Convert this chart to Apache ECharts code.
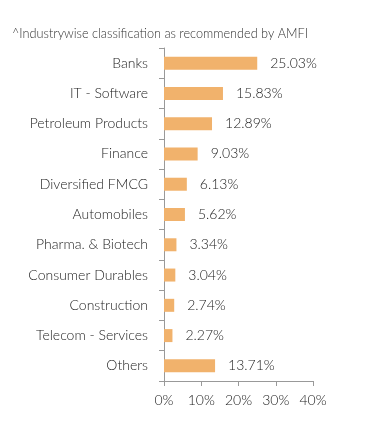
<!DOCTYPE html>
<html>
<head>
<meta charset="utf-8">
<style>html,body{margin:0;padding:0;background:#fff}#c{width:391px;height:434px}</style>
<script src="https://cdn.jsdelivr.net/npm/echarts@6/dist/echarts.min.js"></script>
</head>
<body>
<div id="c"></div>
<script>
var categories = ["Banks","IT - Software","Petroleum Products","Finance","Diversified FMCG","Automobiles","Pharma. & Biotech","Consumer Durables","Construction","Telecom - Services","Others"];
var values = [25.03,15.83,12.89,9.03,6.13,5.62,3.34,3.04,2.74,2.27,13.71];
var xTicks = [0,10,20,30,40];
var note = "^Industrywise classification as recommended by AMFI";

var chart = echarts.init(document.getElementById('c'));
chart.setOption({
  animation: false,
  title: {
    text: note, left: 7, top: 22,
    textStyle: {fontFamily: 'Lato', fontSize: 12.7, fontWeight: 300, color: '#333'}
  },
  grid: {left: 164, right: 78, top: 48, bottom: 53, containLabel: false},
  xAxis: {
    type: 'value', min: xTicks[0], max: xTicks[xTicks.length-1], interval: 10,
    splitLine: {show: false},
    axisLine: {show: true, lineStyle: {color: '#999'}},
    axisTick: {show: true, length: 5, lineStyle: {color: '#999'}},
    axisLabel: {formatter: '{value}%', fontFamily: 'Lato', fontWeight: 300, fontSize: 14, color: '#222', margin: 12}
  },
  yAxis: {
    type: 'category', data: categories, inverse: true,
    axisLine: {show: true, lineStyle: {color: '#999'}},
    axisTick: {show: true, length: 5, lineStyle: {color: '#999'}},
    axisLabel: {fontFamily: 'Lato', fontWeight: 300, fontSize: 14, color: '#222', margin: 16}
  },
  series: [{
    type: 'bar', data: values, barWidth: 13,
    itemStyle: {color: '#F1B26C'},
    label: {show: true, position: 'right', distance: 13, formatter: function(p){return p.value.toFixed(2)+'%';},
      fontFamily: 'Lato', fontWeight: 300, fontSize: 14, color: '#222'}
  }]
});
</script>
</body>
</html>
